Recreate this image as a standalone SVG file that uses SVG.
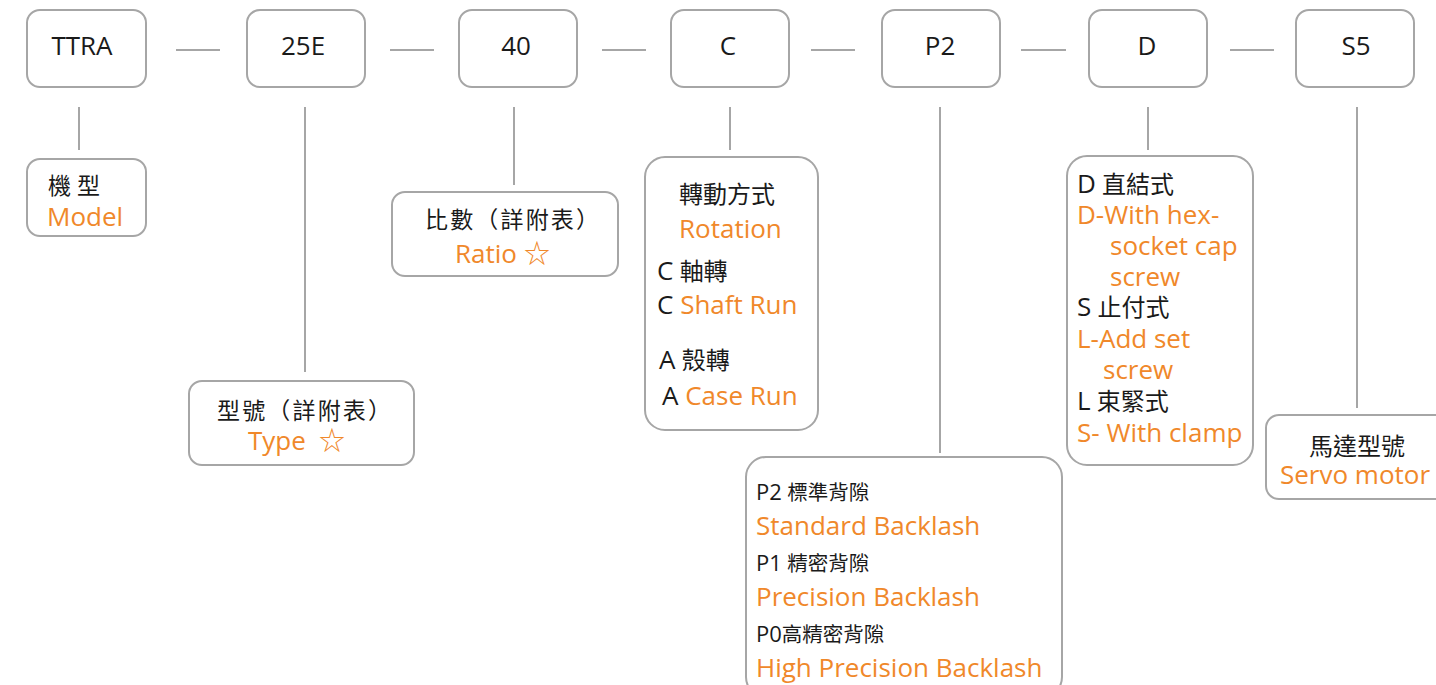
<svg xmlns="http://www.w3.org/2000/svg" width="1436" height="685" viewBox="0 0 1436 685">
<style>
.box{fill:#fff;stroke:#a6a6a6;stroke-width:2}
.ln{stroke:#a6a6a6;stroke-width:2;fill:none}
text{font-family:"Open Sans","Noto Sans CJK TC",sans-serif}
.t{fill:#1a1a1a;font-size:26px;text-anchor:middle}
.k{fill:#1a1a1a;font-size:23px}
.k24{fill:#1a1a1a;font-size:24px}
.k20{fill:#1a1a1a;font-size:20.5px}
.o{fill:#f0882a;font-size:26px}
.L{font-size:26px}
.L2{font-size:22px}
.m{text-anchor:middle}
</style>
<rect width="1436" height="685" fill="#fff"/>
<g id="connectors">
<line class="ln" x1="176" y1="50" x2="220" y2="50"/>
<line class="ln" x1="390" y1="50" x2="434" y2="50"/>
<line class="ln" x1="602" y1="50" x2="646" y2="50"/>
<line class="ln" x1="811" y1="50" x2="855" y2="50"/>
<line class="ln" x1="1021" y1="50" x2="1066" y2="50"/>
<line class="ln" x1="1230" y1="50" x2="1274" y2="50"/>
<line class="ln" x1="79" y1="107" x2="79" y2="150"/>
<line class="ln" x1="305" y1="107" x2="305" y2="372"/>
<line class="ln" x1="514" y1="107" x2="514" y2="185"/>
<line class="ln" x1="730" y1="107" x2="730" y2="150"/>
<line class="ln" x1="940" y1="107" x2="940" y2="453"/>
<line class="ln" x1="1148" y1="107" x2="1148" y2="150"/>
<line class="ln" x1="1357" y1="107" x2="1357" y2="408"/>
</g>
<g id="n-ttra"><rect class="box" x="27" y="10" width="119" height="77" rx="13"/><text class="t" x="82" y="55">TTRA</text></g>
<g id="n-25e"><rect class="box" x="247" y="10" width="118" height="77" rx="13"/><text class="t" x="303" y="55">25E</text></g>
<g id="n-40"><rect class="box" x="459" y="10" width="118" height="77" rx="13"/><text class="t" x="516" y="55">40</text></g>
<g id="n-c"><rect class="box" x="671" y="10" width="118" height="77" rx="13"/><text class="t" x="728" y="55">C</text></g>
<g id="n-p2"><rect class="box" x="882" y="10" width="118" height="77" rx="13"/><text class="t" x="940" y="55">P2</text></g>
<g id="n-d"><rect class="box" x="1089" y="10" width="118" height="77" rx="13"/><text class="t" x="1147" y="55">D</text></g>
<g id="n-s5"><rect class="box" x="1296" y="10" width="118" height="77" rx="13"/><text class="t" x="1356" y="55">S5</text></g>

<g id="d-model"><rect class="box" x="27" y="159" width="119" height="77" rx="13"/>
<text class="k" x="48" y="194">機 型</text>
<text class="o" x="47" y="226">Model</text></g>

<g id="d-ratio"><rect class="box" x="392" y="192" width="226" height="84" rx="13"/>
<text class="k" x="425" y="228" textLength="174" lengthAdjust="spacing">比數（詳附表）</text>
<text class="o" x="455" y="263">Ratio<tspan x="524">☆</tspan></text></g>

<g id="d-type"><rect class="box" x="189" y="381" width="225" height="84" rx="13"/>
<text class="k" x="217" y="419" textLength="174" lengthAdjust="spacing">型號（詳附表）</text>
<text class="o" x="248" y="450">Type<tspan x="319">☆</tspan></text></g>

<g id="d-rotation"><rect class="box" x="645" y="157" width="173" height="273" rx="20"/>
<text class="k24" x="679" y="203">轉動方式</text>
<text class="o" x="679" y="238">Rotation</text>
<text class="k24" x="657" y="280"><tspan class="L">C</tspan> 軸轉</text>
<text class="o" x="657" y="314"><tspan fill="#1a1a1a">C</tspan> Shaft Run</text>
<text class="k24" x="659" y="369"><tspan class="L">A</tspan> 殼轉</text>
<text class="o" x="662" y="405"><tspan fill="#1a1a1a">A</tspan> Case Run</text></g>

<g id="d-backlash"><rect class="box" x="746" y="457" width="316" height="240" rx="20"/>
<text class="k20" x="756" y="500"><tspan class="L2">P2</tspan> 標準背隙</text>
<text class="o" x="756" y="535">Standard Backlash</text>
<text class="k20" x="756" y="571"><tspan class="L2">P1</tspan> 精密背隙</text>
<text class="o" x="756" y="606">Precision Backlash</text>
<text class="k20" x="756" y="642"><tspan class="L2">P0</tspan>高精密背隙</text>
<text class="o" x="756" y="677">High Precision Backlash</text></g>

<g id="d-mount"><rect class="box" x="1067" y="156" width="186" height="309" rx="20"/>
<text class="k24" x="1077" y="193"><tspan class="L">D</tspan> 直結式</text>
<text class="o" x="1077" y="224">D-With hex-</text>
<text class="o" x="1110" y="255">socket cap</text>
<text class="o" x="1110" y="286">screw</text>
<text class="k24" x="1077" y="316"><tspan class="L">S</tspan> 止付式</text>
<text class="o" x="1077" y="348">L-Add set</text>
<text class="o" x="1103" y="379">screw</text>
<text class="k24" x="1077" y="410"><tspan class="L">L</tspan> 束緊式</text>
<text class="o" x="1077" y="442">S- With clamp</text></g>

<g id="d-servo"><rect class="box" x="1266" y="415" width="190" height="84" rx="13"/>
<text class="k24 m" x="1357" y="455">馬達型號</text>
<text class="o" x="1280" y="484">Servo motor</text></g>
</svg>
